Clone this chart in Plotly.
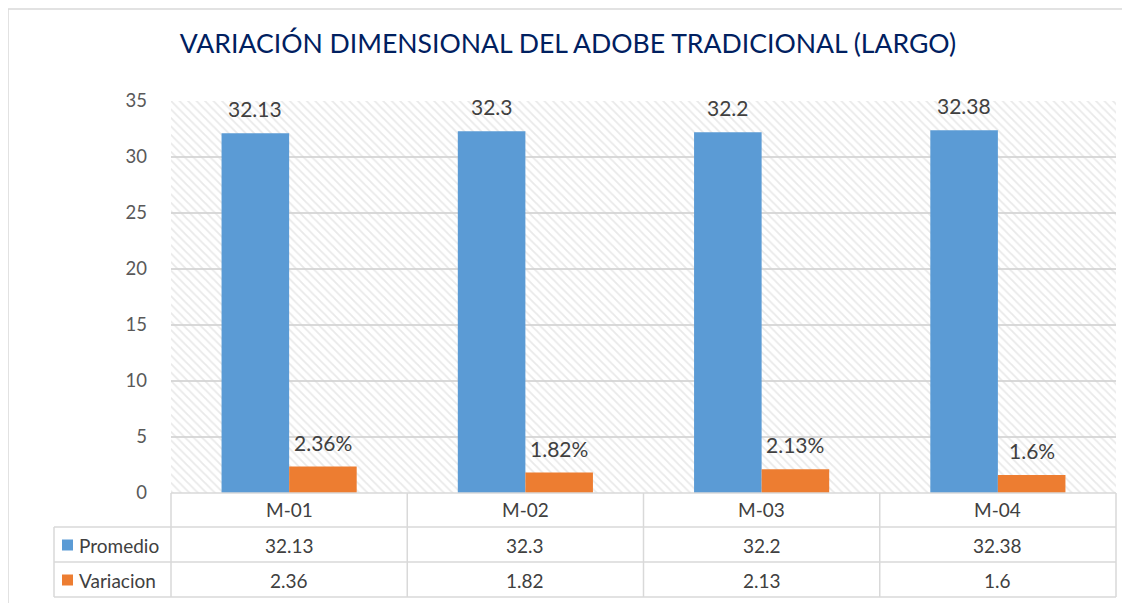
import plotly.graph_objects as go

categories = ["M-01", "M-02", "M-03", "M-04"]
promedio = [32.13, 32.3, 32.2, 32.38]
variacion = [2.36, 1.82, 2.13, 1.6]
y_ticks = [0, 5, 10, 15, 20, 25, 30, 35]
series_names = ["Promedio", "Variacion"]
title_text = "VARIACIÓN DIMENSIONAL DEL ADOBE TRADICIONAL (LARGO)"

BLUE = "#5B9BD5"
ORANGE = "#ED7D31"
GRID = "#d9d9d9"
TXT = "#404040"
FONT = "Lato"

# page body margin offset (browser default 8px)
OFF = 8
W, H = 1130 - OFF, 603 - OFF
L, R, T, B = 171 - OFF, 14, 101 - OFF, 110
plot_w = W - L - R
plot_h = H - T - B


def px(X):
    return (X - OFF - L) / plot_w


def py(Y):
    return (H - B - (Y - OFF)) / plot_h


n = len(categories)
xs = list(range(n))
bw = 0.286

fig = go.Figure()

# hatched plot-area background
fig.add_trace(go.Bar(
    x=[(n - 1) / 2], y=[y_ticks[-1]], width=[n],
    marker=dict(color="rgba(0,0,0,0)", line=dict(width=0),
                pattern=dict(shape="\\", fgcolor="#d4d4d4", bgcolor="rgba(0,0,0,0)",
                             size=6, solidity=0.3)),
    hoverinfo="skip", showlegend=False))

fig.add_trace(go.Bar(x=xs, y=promedio, name=series_names[0], width=bw, offset=-bw,
                     marker=dict(color=BLUE, line=dict(width=0)), showlegend=False))
fig.add_trace(go.Bar(x=xs, y=variacion, name=series_names[1], width=bw, offset=0,
                     marker=dict(color=ORANGE, line=dict(width=0)), showlegend=False))

annotations = []
lfont = dict(family=FONT, size=21, color=TXT)
for i in xs:
    annotations.append(dict(x=i - bw / 2, y=promedio[i], xref="x", yref="y",
                            text=f"{promedio[i]}", showarrow=False, yanchor="bottom",
                            xanchor="center", yshift=10, font=lfont))
    annotations.append(dict(x=i + bw / 2, y=variacion[i], xref="x", yref="y",
                            text=f"{variacion[i]}%", showarrow=False, yanchor="bottom",
                            xanchor="center", yshift=10, font=lfont))

# data table
row_centers = [510, 545, 580]
tfont = dict(family=FONT, size=19, color=TXT)
for i in xs:
    cx = (i + 0.5) / n
    for r, txt in enumerate([categories[i], f"{promedio[i]}", f"{variacion[i]}"]):
        annotations.append(dict(x=cx, y=py(row_centers[r]), xref="paper", yref="paper",
                                text=txt, showarrow=False, xanchor="center",
                                yanchor="middle", font=tfont))

shapes = []
for k, (name, col) in enumerate(zip(series_names, [BLUE, ORANGE])):
    yc = row_centers[k + 1]
    annotations.append(dict(x=px(77), y=py(yc), xref="paper", yref="paper", text=name,
                            showarrow=False, xanchor="left", yanchor="middle", font=tfont))
    shapes.append(dict(type="rect", xref="paper", yref="paper",
                       x0=px(62), x1=px(73), y0=py(yc - 5.5), y1=py(yc + 5.5),
                       fillcolor=col, line=dict(width=0)))

line = dict(color=GRID, width=1.5)
# horizontal table lines
shapes.append(dict(type="line", xref="paper", yref="paper", x0=0, x1=1,
                   y0=py(493), y1=py(493), line=line))
for Y in [527, 562, 597]:
    shapes.append(dict(type="line", xref="paper", yref="paper", x0=px(54), x1=1,
                       y0=py(Y), y1=py(Y), line=line))
# vertical table lines
shapes.append(dict(type="line", xref="paper", yref="paper", x0=px(54), x1=px(54),
                   y0=py(527), y1=py(597), line=line))
for k in range(n + 1):
    shapes.append(dict(type="line", xref="paper", yref="paper", x0=k / n, x1=k / n,
                       y0=py(493), y1=py(597), line=line))
# outer chart frame
shapes.append(dict(type="line", xref="paper", yref="paper", x0=px(8), x1=px(1135),
                   y0=py(9), y1=py(9), line=line))
shapes.append(dict(type="line", xref="paper", yref="paper", x0=px(8), x1=px(8),
                   y0=py(9), y1=py(610), line=line))

fig.update_layout(
    width=W, height=H,
    margin=dict(l=L, r=R, t=T, b=B),
    paper_bgcolor="white", plot_bgcolor="white",
    barmode="overlay",
    title=dict(text=title_text, x=(568 - OFF) / W, xref="container", xanchor="center",
               y=1 - (44 - OFF) / H, yref="container", yanchor="middle",
               font=dict(family=FONT, size=26.6, color="#002060")),
    xaxis=dict(range=[-0.5, n - 0.5], showticklabels=False, showgrid=False,
               zeroline=False, showline=False, ticks=""),
    yaxis=dict(range=[0, y_ticks[-1]], tickvals=y_ticks, showgrid=True, gridcolor=GRID,
               gridwidth=1.5, zeroline=False, showline=False, ticks="",
               ticklabelstandoff=23,
               tickfont=dict(family=FONT, size=18.5, color="#595959")),
    annotations=annotations,
    shapes=shapes,
    showlegend=False,
)

fig.write_html("out.html")
